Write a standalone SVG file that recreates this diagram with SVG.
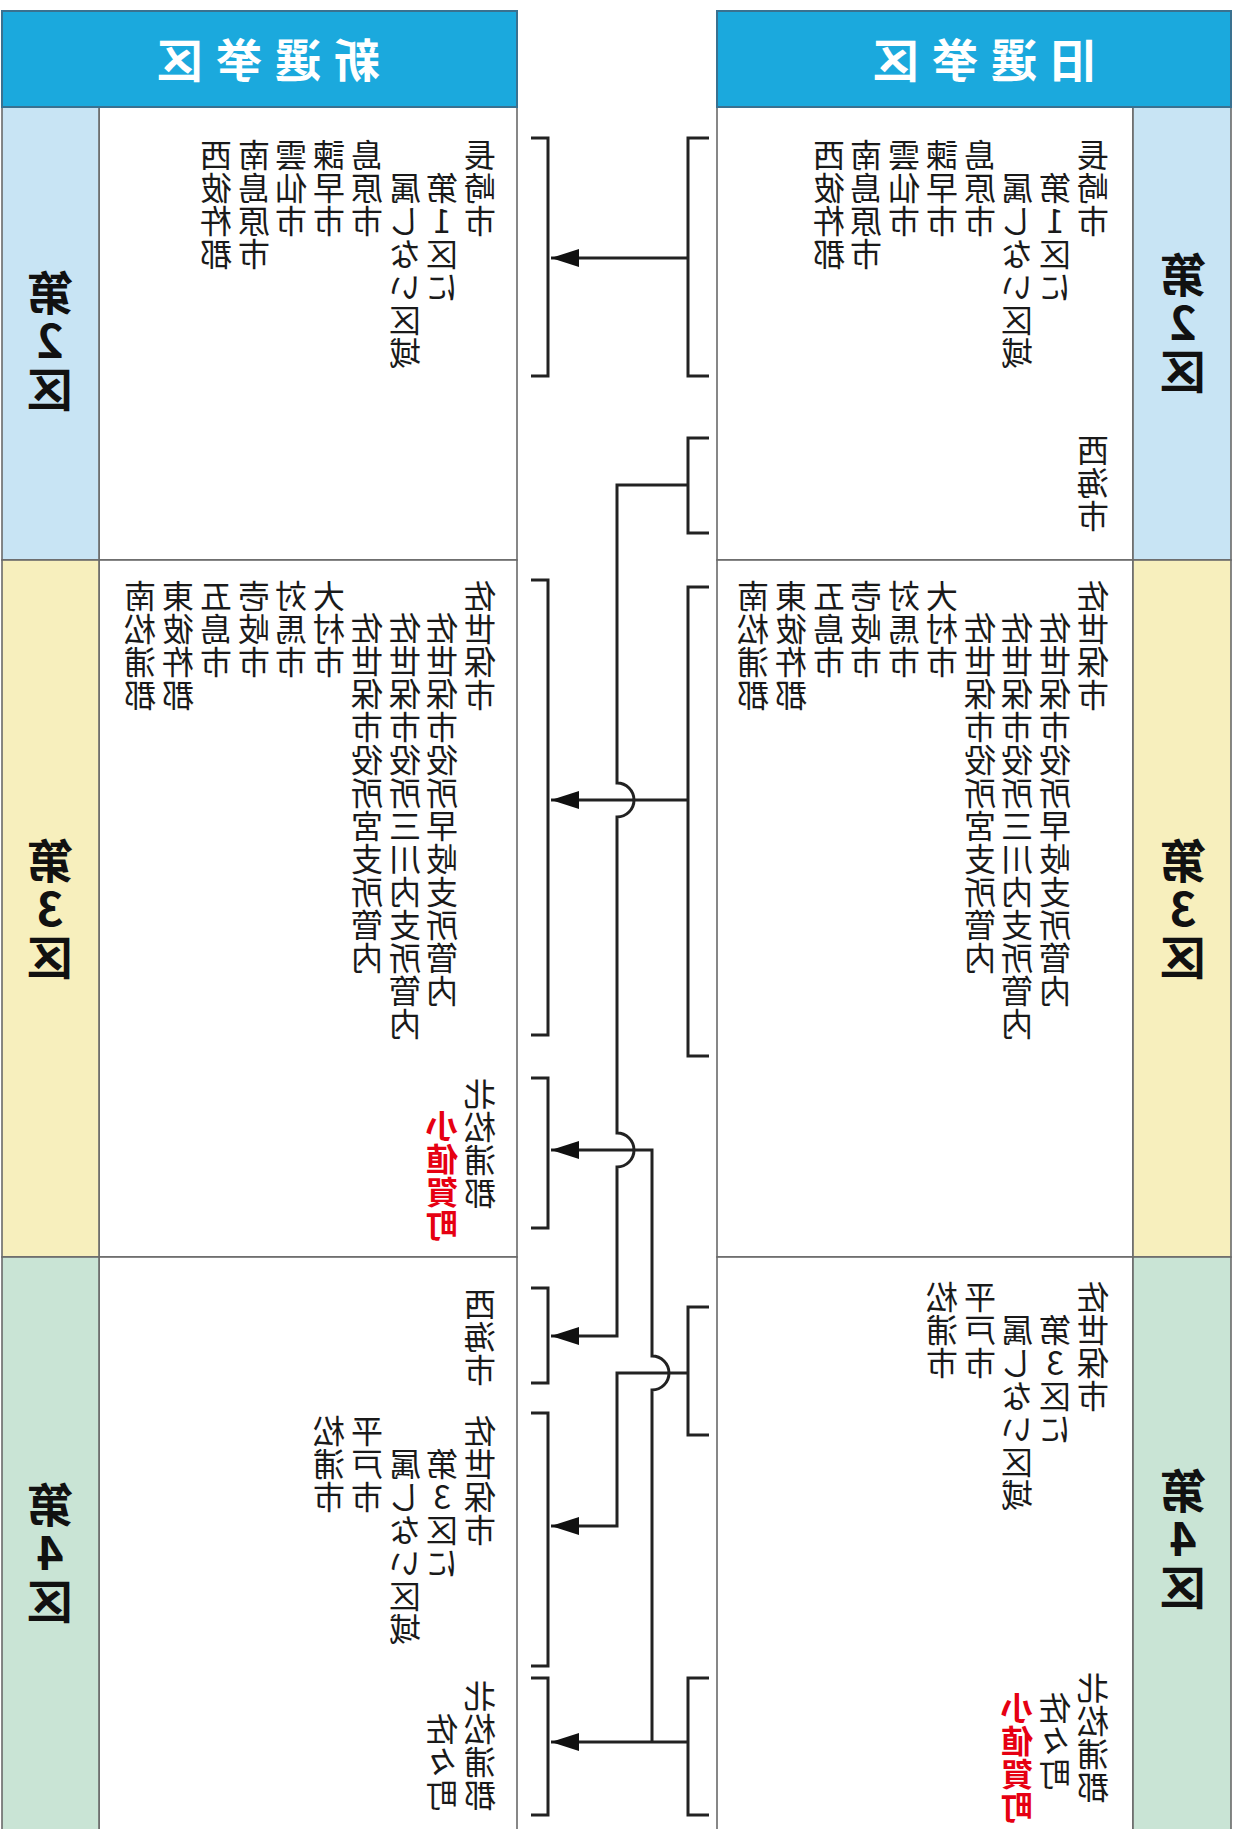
<svg xmlns="http://www.w3.org/2000/svg" width="1238" height="1829" viewBox="0 0 1238 1829">
<style>
.hdr{fill:#1ba9dd;stroke:#3a7190;stroke-width:2}
.cell{fill:#fff;stroke:#6a6a6a;stroke-width:1.6}
.c2{fill:#c8e4f4;stroke:#6a6a6a;stroke-width:1.6}
.c3{fill:#f7efbd;stroke:#6a6a6a;stroke-width:1.6}
.c4{fill:#c9e4d5;stroke:#6a6a6a;stroke-width:1.6}
.v{font-family:"Noto Sans CJK JP","Noto Sans CJK SC",sans-serif;font-size:32px;letter-spacing:1px;fill:#1a1a1a;writing-mode:vertical-rl;text-orientation:upright}
.red{fill:#e60012;font-weight:bold}
.lab{font-family:"Noto Sans CJK JP","Noto Sans CJK SC",sans-serif;font-size:46px;font-weight:bold;fill:#111;writing-mode:vertical-rl;text-orientation:upright;letter-spacing:2px}
.ht{font-family:"Noto Sans CJK JP","Noto Sans CJK SC",sans-serif;font-size:46px;font-weight:bold;fill:#fff;letter-spacing:13px;text-anchor:middle}
.ln{fill:none;stroke:#222;stroke-width:3}
</style>
<defs>
<marker id="ah" markerUnits="userSpaceOnUse" markerWidth="30" markerHeight="20" refX="28" refY="0" viewBox="0 -10 30 20" orient="auto">
<path d="M0,-9 L28,0 L0,9 Z" fill="#111"/>
</marker>
</defs>

<g id="old-table">
<rect class="cell" x="717" y="107" width="416" height="453"/>
<rect class="cell" x="717" y="560" width="416" height="697"/>
<rect class="cell" x="717" y="1257" width="416" height="580"/>
<rect class="c2" x="1133" y="107" width="98" height="453"/>
<rect class="c3" x="1133" y="560" width="98" height="697"/>
<rect class="c4" x="1133" y="1257" width="98" height="580"/>
<rect class="hdr" x="717" y="11" width="514" height="96"/>
</g>
<g id="new-table">
<rect class="cell" x="99" y="107" width="418" height="453"/>
<rect class="cell" x="99" y="560" width="418" height="697"/>
<rect class="cell" x="99" y="1257" width="418" height="580"/>
<rect class="c2" x="2" y="107" width="97" height="453"/>
<rect class="c3" x="2" y="560" width="97" height="697"/>
<rect class="c4" x="2" y="1257" width="97" height="580"/>
<rect class="hdr" x="2" y="11" width="515" height="96"/>
</g>

<g transform="scale(-1,1)">
<g id="old-header"><text class="ht" x="-978" y="77">旧選挙区</text></g>
<g id="new-header"><text class="ht" x="-262" y="77">新選挙区</text></g>

<g id="old-labels">
<text class="lab" x="-1183" y="252">第2区</text>
<text class="lab" x="-1183" y="838">第3区</text>
<text class="lab" x="-1183" y="1468">第4区</text>
</g>
<g id="new-labels">
<text class="lab" x="-50" y="270">第2区</text>
<text class="lab" x="-50" y="838">第3区</text>
<text class="lab" x="-50" y="1482">第4区</text>
</g>

<g id="old-d2">
<text class="v" x="-1093" y="139">長崎市</text>
<text class="v" x="-1055" y="172">第1区に</text>
<text class="v" x="-1017" y="172">属しない区域</text>
<text class="v" x="-980" y="139">島原市</text>
<text class="v" x="-942" y="139">諫早市</text>
<text class="v" x="-904" y="139">雲仙市</text>
<text class="v" x="-866" y="139">南島原市</text>
<text class="v" x="-829" y="139">西彼杵郡</text>
</g>
<g id="old-saikai"><text class="v" x="-1093" y="434">西海市</text></g>
<g id="old-d3">
<text class="v" x="-1093" y="580">佐世保市</text>
<text class="v" x="-1055" y="612">佐世保市役所早岐支所管内</text>
<text class="v" x="-1017" y="612">佐世保市役所三川内支所管内</text>
<text class="v" x="-980" y="612">佐世保市役所宮支所管内</text>
<text class="v" x="-942" y="580">大村市</text>
<text class="v" x="-904" y="580">対馬市</text>
<text class="v" x="-866" y="580">壱岐市</text>
<text class="v" x="-829" y="580">五島市</text>
<text class="v" x="-791" y="580">東彼杵郡</text>
<text class="v" x="-753" y="580">南松浦郡</text>
</g>
<g id="old-d4">
<text class="v" x="-1093" y="1281">佐世保市</text>
<text class="v" x="-1055" y="1314">第3区に</text>
<text class="v" x="-1017" y="1314">属しない区域</text>
<text class="v" x="-980" y="1281">平戸市</text>
<text class="v" x="-942" y="1281">松浦市</text>
</g>
<g id="old-kita">
<text class="v" x="-1093" y="1672">北松浦郡</text>
<text class="v" x="-1055" y="1692">佐々町</text>
<text class="v red" x="-1017" y="1692">小値賀町</text>
</g>

<g id="new-d2">
<text class="v" x="-480" y="139">長崎市</text>
<text class="v" x="-442" y="172">第1区に</text>
<text class="v" x="-405" y="172">属しない区域</text>
<text class="v" x="-367" y="139">島原市</text>
<text class="v" x="-329" y="139">諫早市</text>
<text class="v" x="-291" y="139">雲仙市</text>
<text class="v" x="-254" y="139">南島原市</text>
<text class="v" x="-216" y="139">西彼杵郡</text>
</g>
<g id="new-d3">
<text class="v" x="-480" y="580">佐世保市</text>
<text class="v" x="-442" y="612">佐世保市役所早岐支所管内</text>
<text class="v" x="-405" y="612">佐世保市役所三川内支所管内</text>
<text class="v" x="-367" y="612">佐世保市役所宮支所管内</text>
<text class="v" x="-329" y="580">大村市</text>
<text class="v" x="-291" y="580">対馬市</text>
<text class="v" x="-254" y="580">壱岐市</text>
<text class="v" x="-216" y="580">五島市</text>
<text class="v" x="-178" y="580">東彼杵郡</text>
<text class="v" x="-140" y="580">南松浦郡</text>
</g>
<g id="new-d3-kita">
<text class="v" x="-480" y="1078">北松浦郡</text>
<text class="v red" x="-442" y="1110">小値賀町</text>
</g>
<g id="new-saikai"><text class="v" x="-480" y="1288">西海市</text></g>
<g id="new-d4">
<text class="v" x="-480" y="1415">佐世保市</text>
<text class="v" x="-442" y="1448">第3区に</text>
<text class="v" x="-405" y="1448">属しない区域</text>
<text class="v" x="-367" y="1415">平戸市</text>
<text class="v" x="-329" y="1415">松浦市</text>
</g>
<g id="new-d4-kita">
<text class="v" x="-480" y="1680">北松浦郡</text>
<text class="v" x="-442" y="1713">佐々町</text>
</g>
</g>

<g id="connectors">
<path class="ln" d="M709,138 H688 V376 H709"/>
<path class="ln" d="M531,138 H548 V376 H531"/>
<path class="ln" d="M688,258 H551" marker-end="url(#ah)"/>

<path class="ln" d="M709,438 H688 V533 H709"/>
<path class="ln" d="M688,485 H617 V783 A17,17 0 0 1 617,817 V1133 A17,17 0 0 1 617,1167 V1336 H551" marker-end="url(#ah)"/>

<path class="ln" d="M709,587 H688 V1056 H709"/>
<path class="ln" d="M531,580 H548 V1035 H531"/>
<path class="ln" d="M688,800 H551" marker-end="url(#ah)"/>

<path class="ln" d="M531,1078 H548 V1228 H531"/>
<path class="ln" d="M652,1742 V1390 A17,17 0 0 0 652,1356 V1150 H551" marker-end="url(#ah)"/>

<path class="ln" d="M531,1288 H548 V1383 H531"/>

<path class="ln" d="M709,1307 H688 V1435 H709"/>
<path class="ln" d="M531,1413 H548 V1666 H531"/>
<path class="ln" d="M688,1373 H617 V1526 H551" marker-end="url(#ah)"/>

<path class="ln" d="M709,1678 H688 V1815 H709"/>
<path class="ln" d="M531,1678 H548 V1815 H531"/>
<path class="ln" d="M688,1742 H551" marker-end="url(#ah)"/>
</g>
</svg>
